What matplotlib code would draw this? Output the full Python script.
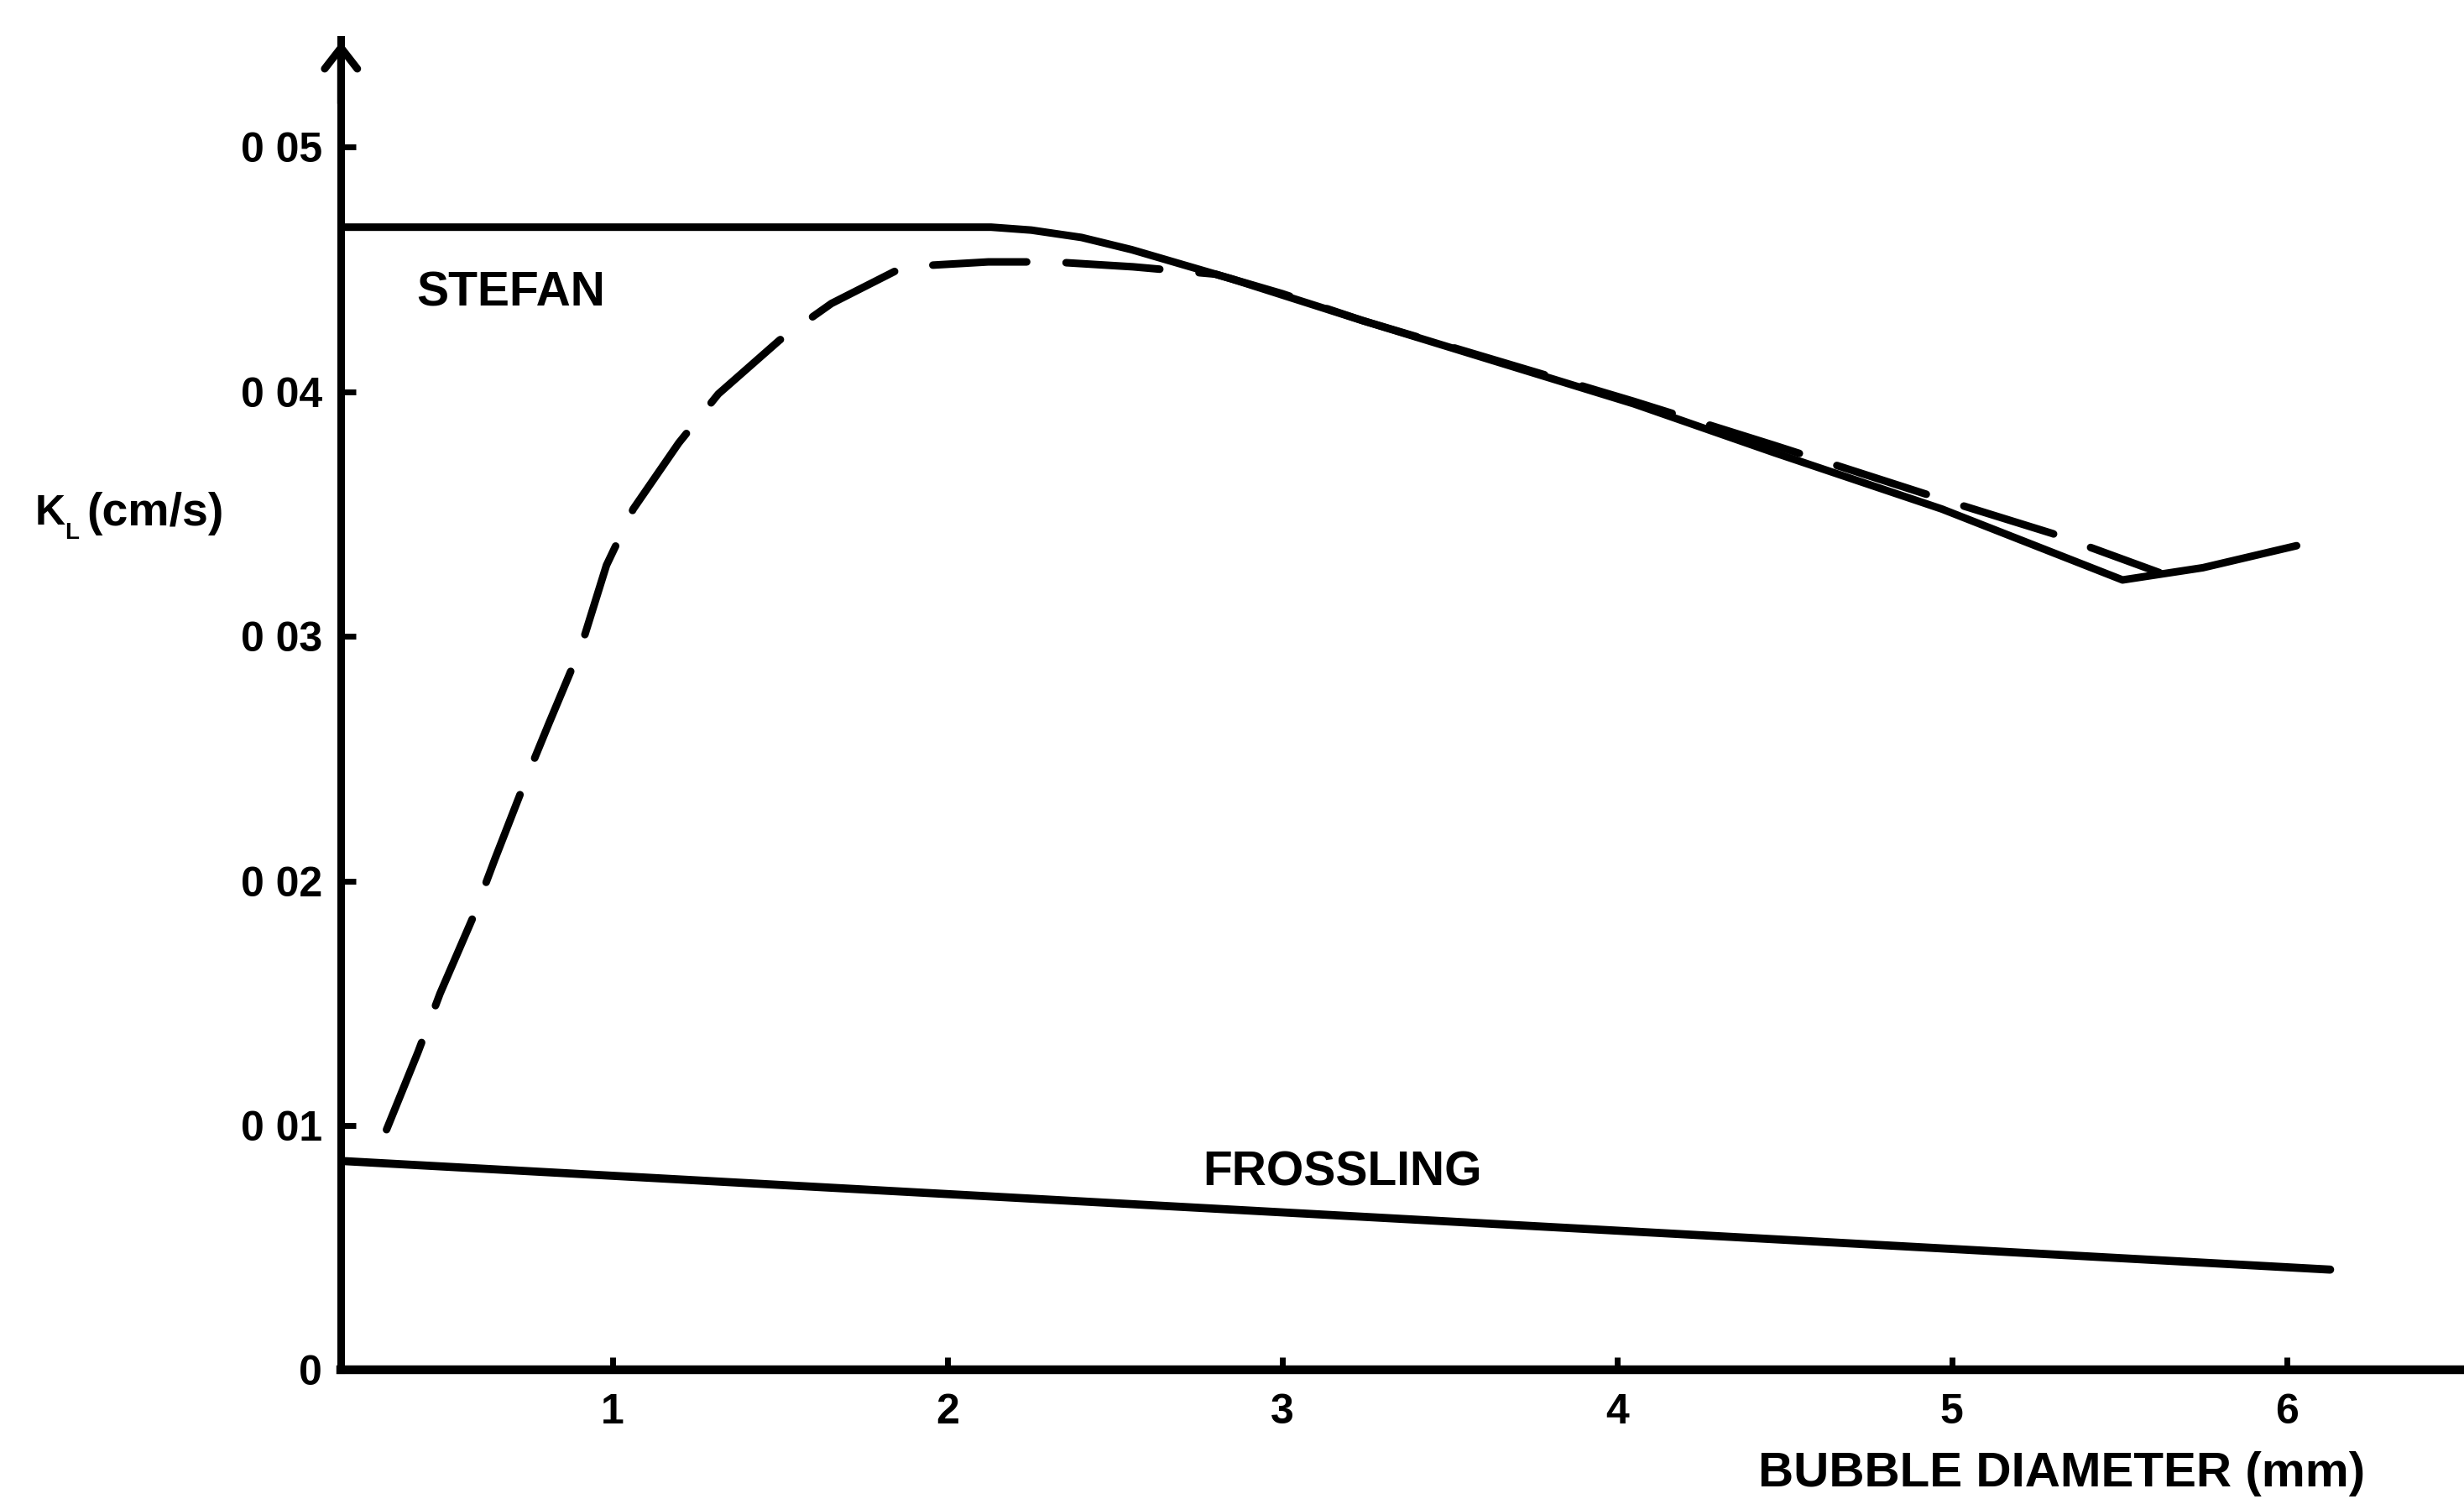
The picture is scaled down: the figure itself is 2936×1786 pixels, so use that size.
import matplotlib.pyplot as plt
import numpy as np

# bubble diameter (mm) vs liquid-side mass transfer coefficient K_L (cm/s)
stefan_d = [0.19, 2.13, 2.25, 2.4, 2.55, 2.7, 2.85, 3.24, 4.05, 4.47, 4.97, 5.51, 5.75, 6.03]
stefan_k = [0.04672, 0.04672, 0.0466, 0.0463, 0.0458, 0.0452, 0.0446, 0.0429, 0.0395, 0.0375, 0.0352,
            0.0323, 0.0328, 0.0337]

model_d = [0.324, 0.418, 0.484, 0.582, 0.648, 0.742, 0.808, 0.906, 0.981, 1.061, 1.197, 1.315, 1.498,
           1.653, 1.869, 2.122, 2.315, 2.554, 2.8, 3.0, 3.24, 4.05, 4.47, 4.97, 5.3, 5.62]
model_k = [0.00983, 0.0130, 0.0154, 0.0185, 0.0209, 0.0242, 0.0264, 0.0296, 0.0329, 0.0352, 0.0379,
           0.0399, 0.0421, 0.0436, 0.0451, 0.0453, 0.0453, 0.0451, 0.0448, 0.0440, 0.0429, 0.0396,
           0.0378, 0.0356, 0.0342, 0.0326]

frossling_d = [0.19, 6.13]
frossling_k = [0.00855, 0.00411]

yticks = [0, 0.01, 0.02, 0.03, 0.04, 0.05]
ytick_labels = ['0', '0 01', '0 02', '0 03', '0 04', '0 05']
xticks = [1, 2, 3, 4, 5, 6]

plt.rcParams['font.family'] = ['Liberation Sans', 'DejaVu Sans']
plt.rcParams['font.weight'] = 'bold'

fig = plt.figure(figsize=(29.36, 17.86), dpi=100)
ax = fig.add_axes([217/1568, 82/954, 1 - 217/1568, (872 - 25)/954])

ax.plot(stefan_d, stefan_k, color='black', lw=6.5, solid_capstyle='round', solid_joinstyle='round')
ax.plot(frossling_d, frossling_k, color='black', lw=7, solid_capstyle='round')
ax.plot(model_d, model_k, color='black', lw=6.5, dashes=(12.4, 5.2), dash_capstyle='round',
        dash_joinstyle='round')

ax.set_xlim(0.188, 6.53)
ax.set_ylim(0, 0.0544)

for s in ['top', 'right']:
    ax.spines[s].set_visible(False)
ax.spines['left'].set_linewidth(6.5)
ax.spines['bottom'].set_linewidth(7.5)

ax.set_yticks(yticks)
ax.set_yticklabels(ytick_labels)
ax.set_xticks(xticks)
ax.tick_params(axis='y', direction='in', length=13, width=5, pad=16, labelsize=36)
ax.tick_params(axis='x', direction='in', length=11, width=5, pad=20, labelsize=36)

# open arrowhead on the top of the K_L axis
ax.annotate('', xy=(0, 1.0), xytext=(0, 0.95), xycoords='axes fraction',
            arrowprops=dict(arrowstyle='->,head_length=0.45,head_width=0.35', lw=6.5,
                            color='black', mutation_scale=40), annotation_clip=False)

ax.text(0.695, 0.0440, 'STEFAN', fontsize=41, fontweight='bold', ha='center', va='center')
ax.text(3.18, 0.00805, 'FROSSLING', fontsize=41, fontweight='bold', ha='center', va='center')

fig.text(1505/1568, (954 - 938)/954, 'BUBBLE DIAMETER (mm)', fontsize=42, fontweight='bold',
         ha='right', va='center')

fig.text(22/1568, 1 - 327/954, 'K', fontsize=36, fontweight='bold', ha='left', va='center')
fig.text(41/1568, 1 - 339/954, 'L', fontsize=20, fontweight='bold', ha='left', va='center')
fig.text(55/1568, 1 - 327/954, '(cm/s)', fontsize=40, fontweight='bold', ha='left', va='center')

fig.savefig('out.png', dpi=100, facecolor='white')
